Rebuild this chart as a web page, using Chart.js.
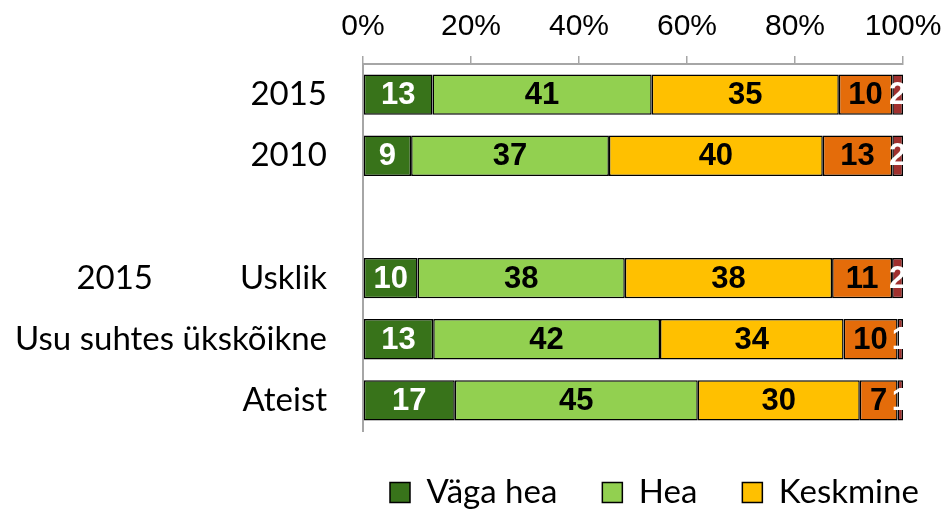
<!DOCTYPE html>
<html>
<head>
<meta charset="utf-8">
<script src="https://cdn.jsdelivr.net/npm/chart.js@4"></script>
<style>
  html, body { margin: 0; padding: 0; background: #fff; }
  #wrap { width: 947px; height: 509px; }
</style>
</head>
<body>
<div id="wrap"><canvas id="myChart"></canvas></div>
<script>
var categories = ['2015', '2010', '', 'Usklik', 'Usu suhtes ükskõikne', 'Ateist'];
var groupLabels = ['', '', '', '2015', '', ''];
var seriesNames = ['Väga hea', 'Hea', 'Keskmine', 'Halb', 'Väga halb'];
var vagaHea = [13, 9, null, 10, 13, 17];
var hea = [41, 37, null, 38, 42, 45];
var keskmine = [35, 40, null, 38, 34, 30];
var halb = [10, 13, null, 11, 10, 7];
var vagaHalb = [2, 2, null, 2, 1, 1];
var tickLabels = ['0%', '20%', '40%', '60%', '80%', '100%'];

var seriesValues = [vagaHea, hea, keskmine, halb, vagaHalb];
var colors = ['#38731A', '#92D050', '#FFC000', '#E46C0A', '#A0302E'];
var labelColors = ['#ffffff', '#000000', '#000000', '#000000', '#ffffff'];

// 100% stacked: each row is scaled to its own total
var rowTotals = categories.map((c, i) => seriesValues.reduce((s, arr) => s + (arr[i] || 0), 0));

var datasets = seriesValues.map((arr, k) => ({
    label: seriesNames[k],
    raw: arr,
    data: arr.map((v, i) => v == null ? null : v / rowTotals[i] * 100),
    backgroundColor: colors[k],
    borderColor: '#000000',
    borderWidth: 1.5,
    borderSkipped: false,
    barPercentage: 0.66,
    categoryPercentage: 1.0
}));

var barLabels = {
    id: 'barLabels',
    afterDatasetsDraw(chart) {
        var ctx = chart.ctx;
        ctx.save();
        ctx.font = 'bold 31px "Liberation Sans", Arial, sans-serif';
        ctx.textAlign = 'center';
        ctx.textBaseline = 'middle';
        chart.data.datasets.forEach((ds, k) => {
            chart.getDatasetMeta(k).data.forEach((el, i) => {
                var v = ds.raw[i];
                if (v == null) return;
                ctx.fillStyle = labelColors[k];
                ctx.fillText(String(v), (el.x + el.base) / 2, el.y + 1);
            });
        });
        // group label left of the category names
        var y = chart.scales.y;
        ctx.font = '33px Lato, "Open Sans", sans-serif';
        ctx.fillStyle = '#000';
        ctx.textAlign = 'right';
        groupLabels.forEach((g, i) => {
            if (g) ctx.fillText(g, 153, y.getPixelForValue(i));
        });
        ctx.restore();
    }
};

var legendPlace = {
    id: 'legendPlace',
    afterLayout(chart) {
        var lg = chart.legend;
        var p = lg.options.labels.padding;
        lg.left = 390 - p;
        lg.right = 2000;
    }
};

var ctx = document.getElementById('myChart').getContext('2d');
new Chart(ctx, {
    type: 'bar',
    data: { labels: categories, datasets: datasets },
    options: {
        indexAxis: 'y',
        responsive: true,
        maintainAspectRatio: false,
        animation: false,
        layout: {
            padding: { left: 0, right: 44, top: -2, bottom: -10 }
        },
        scales: {
            x: {
                position: 'top',
                stacked: true,
                min: 0,
                max: 100,
                afterBuildTicks: (scale) => {
                    scale.ticks = tickLabels.map((t, i) => ({ value: i * 20 }));
                },
                afterFit: (scale) => {
                    scale.paddingLeft = 0;
                    scale.paddingRight = 0;
                },
                ticks: {
                    callback: (v, i) => tickLabels[i],
                    color: '#000',
                    padding: 11,
                    font: { family: '"Liberation Sans", Arial, sans-serif', size: 30 }
                },
                grid: {
                    drawOnChartArea: false,
                    drawTicks: true,
                    tickLength: 8,
                    color: '#A6A6A6',
                    lineWidth: 1.5
                },
                border: { color: '#A6A6A6', width: 2 }
            },
            y: {
                stacked: true,
                afterFit: (scale) => { scale.width = 363; },
                ticks: {
                    color: '#000',
                    padding: 28,
                    font: { family: 'Lato, "Open Sans", sans-serif', size: 33 }
                },
                grid: { display: false },
                border: { color: '#A6A6A6', width: 2 }
            }
        },
        plugins: {
            legend: {
                position: 'bottom',
                align: 'start',
                labels: {
                    filter: (item) => item.datasetIndex < 3,
                    boxWidth: 20,
                    boxHeight: 20,
                    padding: 45,
                    color: '#000',
                    font: { family: 'Lato, "Open Sans", sans-serif', size: 33 }
                }
            },
            tooltip: { enabled: false }
        }
    },
    plugins: [barLabels, legendPlace]
});
</script>
</body>
</html>
